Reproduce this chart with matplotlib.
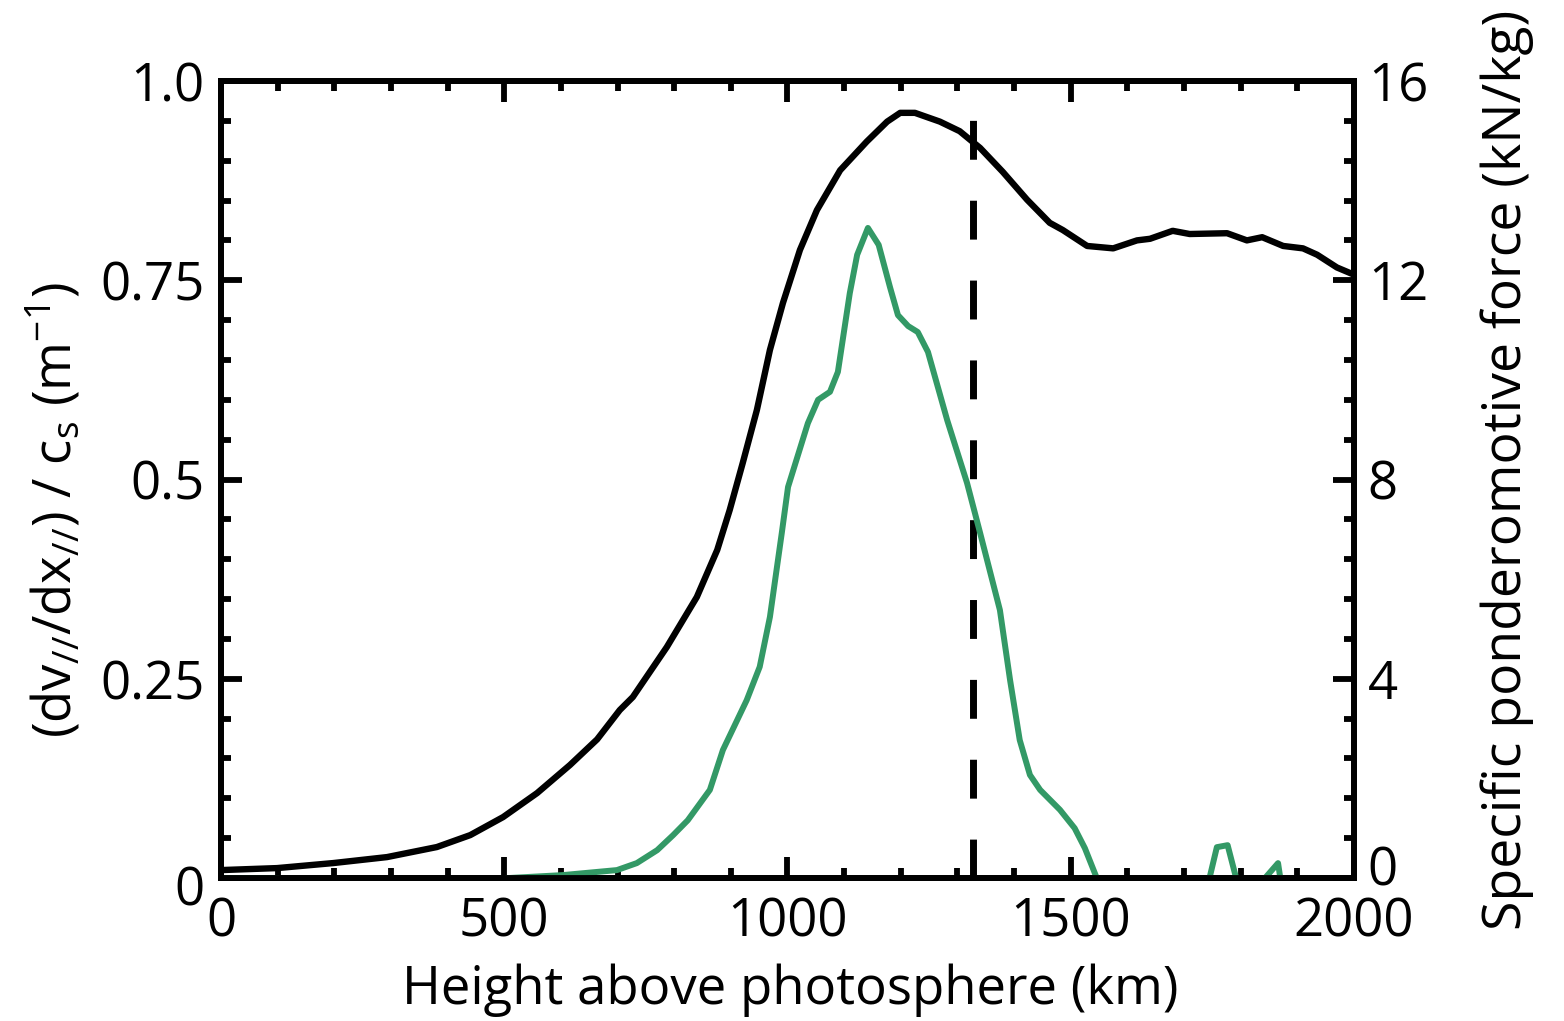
import numpy as np
import matplotlib
matplotlib.use("Agg")
import matplotlib.pyplot as plt
import matplotlib.transforms as mtransforms
from matplotlib.ticker import MultipleLocator

plt.rcParams['font.family'] = ['Open Sans', 'DejaVu Sans']
plt.rcParams['mathtext.default'] = 'regular'

# Black curve: (dv/dx)/cs vs height (km)
h_black = [0, 99, 198, 293, 381, 440, 498, 558, 616, 664, 704, 727, 787, 840, 876,
           898, 921, 946, 969, 992, 1022, 1052, 1093, 1140, 1176, 1199, 1225, 1269,
           1304, 1340, 1380, 1423, 1463, 1486, 1529, 1575, 1617, 1640, 1680, 1710,
           1776, 1811, 1838, 1875, 1910, 1935, 1970, 2000]
v_black = [0.010, 0.0125, 0.0188, 0.0263, 0.0389, 0.0539, 0.0765, 0.1066, 0.1418,
           0.1740, 0.2108, 0.2271, 0.2898, 0.3526, 0.4116, 0.4617, 0.5207, 0.5872,
           0.6625, 0.7215, 0.7880, 0.838, 0.888, 0.924, 0.949, 0.960, 0.960, 0.949,
           0.937, 0.916, 0.886, 0.851, 0.822, 0.813, 0.793, 0.790, 0.800, 0.802,
           0.812, 0.808, 0.809, 0.800, 0.804, 0.793, 0.790, 0.782, 0.766, 0.757]

# Green curve: specific ponderomotive force (kN/kg); NaN = off-scale (below 0)
h_green = [0, 98, np.nan,
           507, 604, 699, 734, 770, 798, 824, 863, 886, 928, 951, 969, 990, 1001,
           1036, 1054, 1075, 1089, 1110, 1123, 1142, 1161, 1181, 1195, 1213, 1230,
           1248, 1282, 1317, 1340, 1375, 1393, 1410, 1428, 1446, 1481, 1507, 1525,
           1546, np.nan,
           1745, 1758, 1777, 1792, np.nan,
           1843, 1866, 1870]
v_green = [0, 0, np.nan,
           0, 0.06, 0.16, 0.30, 0.56, 0.86, 1.16, 1.77, 2.57, 3.57, 4.24, 5.24, 6.93,
           7.85, 9.13, 9.60, 9.76, 10.16, 11.74, 12.51, 13.05, 12.71, 11.86, 11.30,
           11.08, 10.96, 10.56, 9.19, 7.93, 6.93, 5.38, 3.97, 2.77, 2.07, 1.77, 1.37,
           1.00, 0.60, 0.0, np.nan,
           0, 0.62, 0.66, 0, np.nan,
           0, 0.30, 0]

x_marker = 1327
marker_top = 0.954

x_ticks = [0, 500, 1000, 1500, 2000]
y_ticks = [0, 0.25, 0.5, 0.75, 1.0]
y_ticklabels = ['0', '0.25', '0.5', '0.75', '1.0']
y2_ticks = [0, 4, 8, 12, 16]

fig = plt.figure(figsize=(15.64, 10.21), dpi=100)
ax = fig.add_axes([0.1413, 0.140, 0.8657 - 0.1413, 0.9207 - 0.140])
ax2 = ax.twinx()

ax.plot(h_black, v_black, color='black', lw=4.6, zorder=3)
ax.plot([x_marker, x_marker], [0, marker_top], color='black', lw=5,
        dashes=(5.6, 5.9), zorder=3)
ax2.plot(h_green, v_green, color='#339966', lw=4.3, zorder=2)

ax.set_xlim(0, 2000)
ax.set_ylim(0, 1.0)
ax2.set_ylim(0, 16)

ax.set_xticks(x_ticks)
ax.xaxis.set_minor_locator(MultipleLocator(100))
ax.set_yticks(y_ticks)
ax.set_yticklabels(y_ticklabels)
ax.yaxis.set_minor_locator(MultipleLocator(0.05))
ax2.set_yticks(y2_ticks)
ax2.yaxis.set_minor_locator(MultipleLocator(0.8))

fs = 38
for a in (ax, ax2):
    a.tick_params(which='major', direction='in', length=15, width=4.2, labelsize=fs)
    a.tick_params(which='minor', direction='in', length=7, width=4.2)
    for s in a.spines.values():
        s.set_linewidth(4.2)
ax.tick_params(axis='x', which='both', top=True, pad=13)
ax.tick_params(axis='y', which='both', right=False, pad=12)
ax2.tick_params(axis='y', which='both', left=False, pad=10)

# lift the right-axis "0" slightly so it clears the "2000" label (as in the original)
lbl0 = ax2.get_yticklabels()[0]
lbl0.set_transform(lbl0.get_transform() +
                   mtransforms.ScaledTranslation(0, 9 / 72, fig.dpi_scale_trans))
lbl_left0 = ax.get_yticklabels()[0]
lbl_left0.set_transform(lbl_left0.get_transform() +
                        mtransforms.ScaledTranslation(0, -5 / 72, fig.dpi_scale_trans))

fig.text(0.5051, 0.0304, 'Height above photosphere (km)', fontsize=fs,
         ha='center', va='center')
fig.text(0.0352, 0.5005, r'(dv$_{//}$/dx$_{//}$) / c$_s$ (m$^{-1}$)', fontsize=fs,
         rotation=90, ha='center', va='center')
fig.text(0.9636, 0.5397, 'Specific ponderomotive force (kN/kg)', fontsize=38.5,
         rotation=90, ha='center', va='center')

fig.savefig('out.png', dpi=100)
